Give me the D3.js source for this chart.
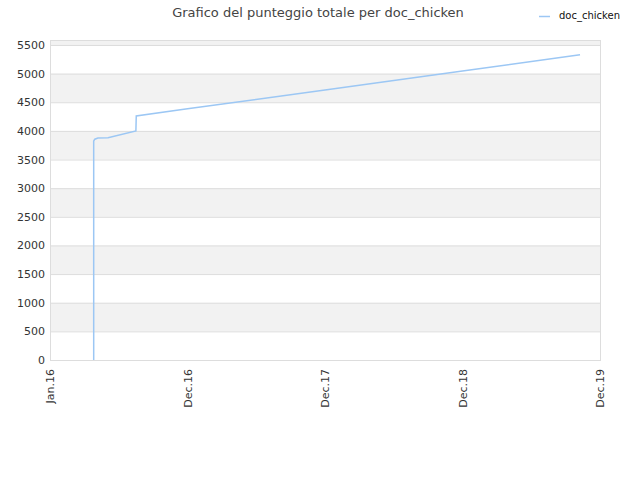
<!DOCTYPE html>
<html>
<head>
<meta charset="utf-8">
<script src="https://cdn.jsdelivr.net/npm/d3@7"></script>
<style>
  body { margin: 0; background: #fff; }
  text { font-family: "DejaVu Sans", sans-serif; fill: #333; }
</style>
</head>
<body>
<div id="chart"></div>
<script>
var TITLE = "Grafico del punteggio totale per doc_chicken";
var SERIES_NAME = "doc_chicken";

// dates of each score update
var dates = [
  "2016-04-26", "2016-04-26", "2016-04-26", "2016-04-26", "2016-04-29",
  "2016-05-07", "2016-06-03", "2016-08-16", "2016-08-17", "2016-12-31",
  "2017-12-31", "2018-12-31", "2019-11-08"
];
var scores = [
  0, 200, 1870, 3823, 3855,
  3876, 3880, 3998, 4260, 4385,
  4715, 5045, 5330
];

var xTickDates = ["2016-01-01", "2016-12-31", "2017-12-31", "2018-12-31", "2019-12-31"];
var yTicks = [0, 500, 1000, 1500, 2000, 2500, 3000, 3500, 4000, 4500, 5000, 5500];

var W = 640, H = 480;
var margin = {left: 50, right: 40, top: 40, bottom: 120};
var parse = d3.timeParse("%Y-%m-%d");

var svg = d3.select("#chart").append("svg")
    .attr("width", W)
    .attr("height", H);

var x = d3.scaleTime()
    .domain([parse(xTickDates[0]), parse(xTickDates[xTickDates.length - 1])])
    .range([margin.left, W - margin.right]);

var y = d3.scaleLinear()
    .domain([0, 5587])
    .range([H - margin.bottom, margin.top]);

// alternating bands, grey on the odd ones
var bandEdges = yTicks.concat([y.domain()[1]]);
for (var i = 0; i < bandEdges.length - 1; i++) {
  if (i % 2 === 1) {
    svg.append("rect")
        .attr("x", margin.left)
        .attr("y", y(bandEdges[i + 1]))
        .attr("width", W - margin.right - margin.left)
        .attr("height", y(bandEdges[i]) - y(bandEdges[i + 1]))
        .style("fill", "#f2f2f2");
  }
}

// grid lines
svg.append("g").selectAll("line")
    .data(yTicks)
    .enter().append("line")
    .attr("x1", margin.left)
    .attr("x2", W - margin.right)
    .attr("y1", d => y(d) + 0.5)
    .attr("y2", d => y(d) + 0.5)
    .style("stroke", "#dddddd");

// plot frame
svg.append("rect")
    .attr("x", margin.left + 0.5)
    .attr("y", margin.top + 0.5)
    .attr("width", W - margin.right - margin.left)
    .attr("height", H - margin.bottom - margin.top)
    .style("fill", "none")
    .style("stroke", "#dddddd");

// y axis
var yAxis = svg.append("g")
    .attr("transform", "translate(" + margin.left + ",0)")
    .call(d3.axisLeft(y).tickValues(yTicks).tickFormat(d3.format("d")).tickSize(0).tickPadding(5));
yAxis.select(".domain").remove();
yAxis.selectAll("text").style("font-size", "11px").style("fill", "#333");

// x axis, labels rotated
var fmt = d3.timeFormat("%b.%y");
var xAxis = svg.append("g")
    .attr("transform", "translate(0," + (H - margin.bottom) + ")")
    .call(d3.axisBottom(x).tickValues(xTickDates.map(parse)).tickFormat(fmt).tickSize(0));
xAxis.select(".domain").remove();
xAxis.selectAll("text")
    .style("font-size", "11px")
    .style("fill", "#333")
    .attr("text-anchor", "end")
    .attr("transform", "rotate(-90)")
    .attr("x", -9)
    .attr("y", 0)
    .attr("dy", "0.35em");

// the score line
var pts = dates.map((d, i) => ({date: parse(d), score: scores[i]}));
var line = d3.line()
    .x(d => x(d.date))
    .y(d => y(d.score));

svg.append("path")
    .datum(pts)
    .attr("d", line)
    .style("fill", "none")
    .style("stroke", "#9cc7f4")
    .style("stroke-width", 1.5);

// title
svg.append("text")
    .attr("x", 318)
    .attr("y", 17)
    .attr("text-anchor", "middle")
    .style("font-size", "13px")
    .style("fill", "#444")
    .text(TITLE);

// legend
svg.append("line")
    .attr("x1", 539).attr("x2", 550)
    .attr("y1", 16.5).attr("y2", 16.5)
    .style("stroke", "#9cc7f4")
    .style("stroke-width", 1.5);
svg.append("text")
    .attr("x", 559)
    .attr("y", 19)
    .style("font-size", "10px")
    .style("fill", "#111")
    .text(SERIES_NAME);
</script>
</body>
</html>
